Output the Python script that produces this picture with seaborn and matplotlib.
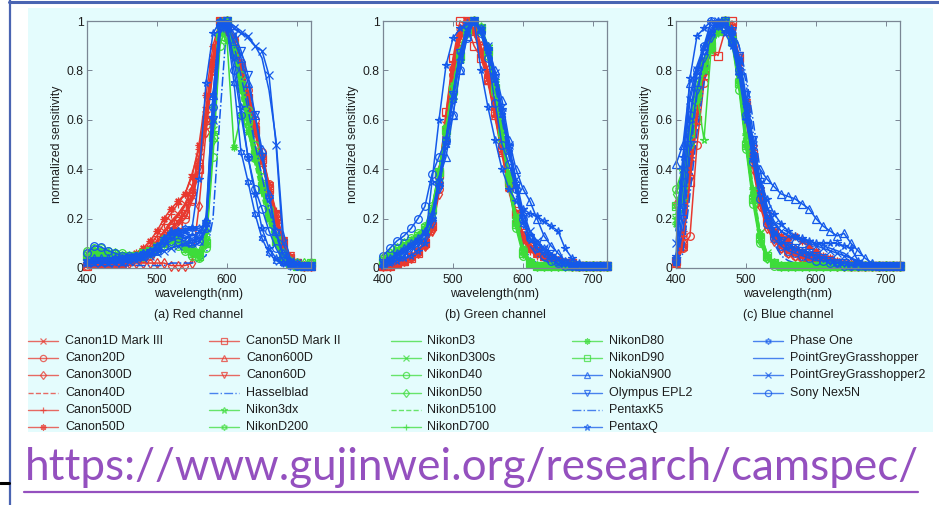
import matplotlib
matplotlib.use("Agg")
import matplotlib.pyplot as plt
import seaborn as sns
import pandas as pd
from matplotlib.lines import Line2D
from matplotlib.patches import Rectangle

# ---------------- data ----------------
wavelengths = [400, 410, 420, 430, 440, 450, 460, 470, 480, 490, 500,
               510, 520, 530, 540, 550, 560, 570, 580, 590, 600, 610,
               620, 630, 640, 650, 660, 670, 680, 690, 700, 710, 720]

camera_names = ["Canon1D Mark III", "Canon20D", "Canon300D", "Canon40D", "Canon500D", "Canon50D",
                "Canon5D Mark II", "Canon600D", "Canon60D", "Hasselblad", "Nikon3dx", "NikonD200",
                "NikonD3", "NikonD300s", "NikonD40", "NikonD50", "NikonD5100", "NikonD700",
                "NikonD80", "NikonD90", "NokiaN900", "Olympus EPL2", "PentaxK5", "PentaxQ",
                "Phase One", "PointGreyGrasshopper", "PointGreyGrasshopper2", "Sony Nex5N"]

panel_titles = ["(a) Red channel", "(b) Green channel", "(c) Blue channel"]
x_ticks = [400, 500, 600, 700]
y_ticks = [0, 0.2, 0.4, 0.6, 0.8, 1]
y_tick_labels = ["0", "0.2", "0.4", "0.6", "0.8", "1"]
url_text = "https://www.gujinwei.org/research/camspec/"

# ---- red channel ----
r_canon1d = [.02,.03,.03,.03,.03,.03,.04,.05,.06,.08,.11, .15,.19,.22,.26,.33,.45,.62,.85,1.0,.97,.90, .80,.68,.55,.43,.30,.18,.08,.03,.01,.01,.01]
r_canon20d = [.01,.02,.02,.02,.02,.02,.03,.03,.04,.05,.07, .10,.14,.17,.20,.27,.40,.58,.82,1.0,.98,.92, .83,.72,.60,.47,.34,.22,.10,.04,.02,.01,.01]
r_canon300d = [.03,.03,.02,.02,.02,.02,.02,.02,.02,.02,.02, .02,.01,.01,.01,.02,.25,.55,.80,.97,1.0,.93, .82,.70,.57,.45,.33,.21,.10,.04,.02,.01,.01]
r_canon40d = [.02,.02,.02,.02,.03,.03,.03,.04,.05,.07,.10, .13,.16,.19,.23,.30,.43,.60,.84,1.0,.96,.88, .78,.66,.54,.42,.30,.19,.09,.04,.02,.01,.01]
r_canon500d = [.02,.02,.02,.03,.03,.03,.04,.05,.07,.09,.13, .18,.22,.26,.30,.38,.48,.65,.86,1.0,.97,.90, .80,.69,.58,.46,.34,.23,.12,.05,.02,.01,.01]
r_canon50d = [.02,.02,.03,.03,.03,.04,.05,.06,.08,.11,.15, .20,.24,.27,.30,.37,.50,.70,.90,1.0,.95,.88, .78,.66,.55,.44,.32,.20,.09,.04,.02,.01,.01]
r_canon5d = [.01,.02,.02,.02,.02,.02,.03,.04,.05,.06,.09, .12,.15,.18,.22,.28,.40,.60,.83,1.0,.98,.91, .81,.69,.56,.44,.32,.21,.10,.04,.02,.01,.01]
r_canon600d = [.02,.02,.02,.02,.02,.03,.03,.04,.05,.07,.10, .14,.18,.21,.25,.32,.44,.61,.84,1.0,.97,.90, .79,.67,.55,.43,.31,.20,.09,.04,.02,.01,.01]
r_canon60d = [.02,.02,.02,.02,.02,.02,.03,.04,.05,.06,.09, .12,.16,.19,.22,.29,.41,.59,.81,.98,1.0,.92, .81,.69,.57,.45,.33,.22,.11,.05,.02,.01,.01]
r_hasselblad = [.01,.01,.01,.01,.01,.01,.01,.01,.01,.01,.01, .01,.02,.02,.02,.02,.03,.05,.20,.62,1.0,.98, .85,.68,.50,.33,.20,.10,.04,.02,.01,.01,.01]
r_nikon3dx = [.05,.06,.06,.05,.05,.05,.05,.05,.06,.07,.08, .10,.12,.11,.08,.06,.05,.10,.55,.95,1.0,.88, .74,.60,.46,.33,.21,.11,.05,.02,.01,.01,.01]
r_nikond200 = [.04,.05,.05,.05,.05,.05,.05,.05,.06,.07,.09, .11,.13,.12,.09,.07,.06,.12,.60,.97,1.0,.86, .72,.58,.44,.31,.20,.10,.05,.02,.01,.01,.01]
r_nikond3 = [.06,.07,.07,.06,.06,.06,.05,.06,.06,.07,.08, .10,.11,.10,.08,.06,.05,.09,.50,.93,1.0,.90, .76,.62,.48,.35,.23,.12,.05,.02,.01,.01,.01]
r_nikond300s = [.05,.06,.06,.06,.05,.05,.05,.05,.06,.07,.09, .11,.12,.11,.09,.07,.06,.11,.56,.96,1.0,.87, .73,.59,.45,.32,.21,.11,.05,.02,.01,.01,.01]
r_nikond40 = [.07,.08,.08,.07,.06,.06,.05,.05,.06,.06,.07, .09,.10,.09,.07,.05,.04,.08,.45,.90,1.0,.91, .78,.64,.50,.37,.24,.13,.06,.03,.02,.01,.02]
r_nikond50 = [.06,.07,.07,.06,.06,.05,.05,.05,.05,.06,.08, .10,.11,.10,.08,.06,.05,.10,.52,.94,1.0,.89, .75,.61,.47,.34,.22,.12,.06,.03,.02,.02,.02]
r_nikond5100 = [.04,.04,.04,.04,.04,.04,.04,.05,.06,.07,.09, .12,.14,.13,.10,.08,.07,.14,.62,.98,1.0,.85, .70,.56,.42,.29,.18,.09,.04,.02,.01,.01,.01]
r_nikond700 = [.05,.06,.06,.06,.06,.05,.05,.05,.06,.07,.09, .11,.13,.12,.09,.07,.05,.10,.54,.95,1.0,.88, .75,.61,.47,.34,.22,.12,.05,.02,.01,.01,.01]
r_nikond80 = [.04,.05,.05,.05,.05,.05,.05,.05,.06,.07,.09, .12,.14,.13,.10,.08,.07,.15,.65,1.0,.92,.49, .62,.55,.44,.32,.20,.10,.04,.02,.01,.01,.01]
r_nikond90 = [.05,.06,.06,.05,.05,.05,.05,.05,.06,.07,.08, .10,.12,.11,.08,.06,.05,.10,.53,.94,1.0,.88, .74,.60,.46,.33,.21,.11,.05,.02,.01,.01,.02]
r_nokian900 = [.03,.04,.04,.04,.04,.04,.04,.05,.06,.07,.09, .12,.15,.15,.14,.13,.14,.20,.70,1.0,.98,.92, .85,.75,.62,.48,.30,.15,.06,.03,.02,.01,.01]
r_olympus = [.02,.03,.03,.03,.03,.03,.04,.04,.05,.06,.08, .10,.13,.14,.13,.12,.13,.18,.60,.97,1.0,.95, .88,.78,.62,.45,.28,.14,.05,.02,.01,.01,.01]
r_pentaxk5 = [.03,.03,.03,.03,.03,.03,.04,.04,.05,.06,.08, .10,.12,.13,.12,.11,.12,.16,.55,.95,1.0,.90, .78,.64,.50,.37,.24,.13,.06,.03,.02,.01,.01]
r_pentaxq = [.02,.02,.02,.02,.03,.03,.03,.04,.05,.07,.09, .12,.14,.15,.15,.16,.36,.75,.95,1.0,.97,.85, .65,.45,.30,.16,.08,.04,.02,.01,.01,.01,.01]
r_phaseone = [.03,.03,.03,.03,.04,.04,.04,.05,.06,.07,.09, .11,.13,.15,.16,.16,.16,.18,.70,1.0,.97,.75, .47,.35,.22,.12,.06,.03,.02,.01,.01,.01,.01]
r_pointgrey = [.02,.02,.02,.02,.02,.03,.03,.03,.04,.05,.06, .07,.08,.09,.09,.09,.10,.15,.55,.95,1.0,.98, .96,.93,.90,.85,.72,.52,.15,.04,.02,.01,.01]
r_pointgrey2 = [.02,.02,.02,.02,.02,.02,.03,.03,.04,.05,.06, .07,.08,.09,.10,.10,.11,.16,.60,.97,1.0,.97, .95,.94,.90,.88,.78,.50,.10,.03,.02,.01,.01]
r_sony = [.06,.09,.085,.07,.06,.05,.05,.05,.05,.06,.07, .09,.11,.12,.11,.10,.11,.16,.65,.98,1.0,.80, .62,.45,.32,.24,.15,.08,.03,.02,.01,.01,.01]

# ---- green channel ----
g_canon1d = [.01,.01,.02,.03,.05,.07,.10,.17,.35,.58,.80, .95,1.0,.96,.88,.77,.63,.48,.33,.20,.12,.08, .06,.05,.04,.03,.02,.02,.01,.01,.01,.01,.01]
g_canon20d = [.01,.02,.02,.03,.05,.07,.10,.16,.32,.55,.78, .93,1.0,.97,.89,.78,.65,.50,.35,.22,.13,.09, .07,.05,.04,.03,.02,.02,.01,.01,.01,.01,.01]
g_canon300d = [.01,.01,.02,.03,.04,.06,.09,.15,.30,.52,.75, .92,.99,1.0,.90,.80,.66,.51,.36,.22,.13,.08, .06,.05,.04,.03,.02,.01,.01,.01,.01,.01,.01]
g_canon40d = [.01,.01,.02,.03,.05,.07,.10,.17,.36,.60,.82, .96,1.0,.95,.87,.76,.62,.47,.32,.19,.11,.07, .05,.04,.03,.02,.02,.01,.01,.01,.01,.01,.01]
g_canon500d = [.01,.02,.02,.03,.05,.07,.11,.18,.38,.62,.84, .97,1.0,.95,.86,.75,.61,.46,.31,.19,.11,.07, .05,.04,.03,.03,.02,.01,.01,.01,.01,.01,.01]
g_canon50d = [.01,.01,.02,.03,.04,.06,.09,.16,.34,.57,.80, .95,1.0,.96,.88,.77,.64,.49,.34,.21,.12,.08, .06,.05,.04,.03,.02,.02,.01,.01,.01,.01,.01]
g_canon5d = [.01,.01,.02,.03,.04,.06,.10,.17,.38,.63,.85, 1.0,.98,.90,.85,.76,.63,.49,.35,.22,.13,.09, .07,.05,.04,.03,.02,.02,.01,.01,.01,.01,.01]
g_canon600d = [.01,.02,.02,.03,.05,.07,.10,.17,.40,.58,.82, .96,1.0,.96,.87,.76,.62,.47,.33,.20,.12,.08, .06,.05,.04,.03,.02,.01,.01,.01,.01,.01,.01]
g_canon60d = [.01,.01,.02,.03,.04,.06,.09,.15,.33,.56,.79, .94,1.0,.96,.89,.79,.66,.51,.36,.23,.14,.09, .07,.05,.04,.03,.02,.02,.01,.01,.01,.01,.01]
g_hasselblad = [.02,.03,.04,.05,.07,.09,.12,.19,.33,.50,.68, .85,.96,1.0,.95,.85,.70,.53,.36,.20,.09,.04, .02,.01,.01,.01,.01,.01,.01,.01,.01,.01,.01]
g_nikon3dx = [.02,.04,.06,.08,.10,.12,.15,.22,.38,.55,.70, .85,.95,1.0,.98,.90,.76,.58,.38,.20,.07,.02, .01,.01,.01,.01,.01,.01,.01,.01,.01,.01,.01]
g_nikond200 = [.03,.05,.07,.09,.11,.13,.16,.23,.37,.53,.69, .84,.95,1.0,.97,.88,.73,.55,.36,.19,.07,.02, .01,.01,.01,.01,.01,.01,.01,.01,.01,.01,.01]
g_nikond3 = [.03,.05,.07,.09,.11,.13,.16,.24,.40,.57,.73, .87,.96,1.0,.96,.87,.72,.54,.35,.18,.06,.02, .01,.01,.01,.01,.01,.01,.01,.01,.01,.01,.01]
g_nikond300s = [.03,.05,.07,.09,.10,.12,.15,.22,.37,.54,.70, .85,.95,1.0,.97,.89,.74,.56,.37,.19,.07,.02, .01,.01,.01,.01,.01,.01,.01,.01,.01,.01,.01]
g_nikond40 = [.04,.06,.08,.10,.12,.14,.17,.25,.39,.55,.71, .86,.96,1.0,.96,.86,.71,.52,.33,.16,.05,.02, .01,.01,.01,.01,.01,.01,.01,.01,.01,.01,.01]
g_nikond50 = [.04,.06,.08,.10,.11,.13,.16,.24,.38,.54,.70, .85,.95,1.0,.97,.88,.73,.55,.36,.18,.06,.02, .01,.01,.01,.01,.01,.01,.01,.01,.01,.01,.01]
g_nikond5100 = [.02,.04,.06,.08,.10,.12,.15,.23,.40,.58,.75, .89,.97,1.0,.95,.86,.72,.55,.37,.20,.08,.03, .01,.01,.01,.01,.01,.01,.01,.01,.01,.01,.01]
g_nikond700 = [.03,.05,.07,.09,.11,.13,.16,.23,.38,.55,.71, .86,.96,1.0,.97,.88,.73,.55,.36,.18,.06,.02, .01,.01,.01,.01,.01,.01,.01,.01,.01,.01,.01]
g_nikond80 = [.02,.04,.06,.08,.10,.12,.15,.22,.39,.57,.74, .88,.97,1.0,.96,.87,.73,.56,.38,.21,.08,.03, .01,.01,.01,.01,.01,.01,.01,.01,.01,.01,.01]
g_nikond90 = [.03,.05,.07,.09,.11,.13,.16,.24,.39,.56,.72, .86,.96,1.0,.97,.88,.73,.55,.36,.18,.06,.02, .01,.01,.01,.01,.01,.01,.01,.01,.01,.01,.01]
g_nokian900 = [.02,.04,.06,.08,.10,.12,.15,.22,.36,.45,.62, .80,.94,1.0,.97,.90,.80,.68,.52,.40,.32,.27, .20,.13,.09,.06,.03,.02,.01,.01,.01,.01,.01]
g_olympus = [.02,.03,.05,.06,.08,.10,.12,.18,.32,.50,.70, .87,.97,1.0,.96,.88,.77,.63,.48,.33,.20,.12, .08,.06,.04,.03,.02,.01,.01,.01,.01,.01,.01]
g_pentaxk5 = [.03,.04,.06,.08,.10,.12,.15,.21,.35,.52,.70, .86,.96,1.0,.95,.86,.74,.60,.45,.30,.17,.09, .05,.03,.02,.01,.01,.01,.01,.01,.01,.01,.01]
g_pentaxq = [.01,.02,.03,.04,.05,.07,.10,.35,.60,.82,.93, .97,.99,1.0,.80,.65,.52,.40,.32,.27,.24,.22, .21,.19,.17,.15,.08,.04,.02,.01,.01,.01,.01]
g_phaseone = [.02,.03,.05,.07,.09,.11,.14,.20,.33,.50,.68, .84,.95,1.0,.96,.88,.76,.62,.47,.33,.18,.12, .10,.08,.05,.03,.02,.01,.01,.01,.01,.01,.01]
g_pointgrey = [.02,.03,.05,.07,.09,.11,.14,.21,.36,.53,.71, .87,.97,1.0,.96,.88,.77,.63,.48,.34,.22,.14, .10,.07,.05,.03,.02,.01,.01,.01,.01,.01,.01]
g_pointgrey2 = [.02,.03,.05,.07,.09,.11,.14,.21,.35,.52,.70, .86,.96,1.0,.97,.90,.79,.65,.50,.36,.23,.15, .11,.08,.06,.04,.02,.01,.01,.01,.01,.01,.01]
g_sony = [.05,.08,.11,.13,.16,.20,.25,.38,.45,.52,.62, .80,.93,1.0,.95,.85,.67,.50,.42,.32,.20,.12, .08,.05,.03,.02,.01,.01,.01,.01,.01,.01,.01]

# ---- blue channel ----
b_canon1d = [.03,.12,.45,.68,.83,.93,.98,1.0,.95,.82,.62, .42,.26,.17,.12,.09,.07,.06,.05,.04,.03,.03, .02,.02,.01,.01,.01,.01,.01,.01,.01,.01,.01]
b_canon20d = [.02,.08,.13,.50,.75,.90,.97,1.0,.98,.85,.65, .45,.28,.18,.12,.08,.06,.05,.04,.03,.03,.02, .02,.01,.01,.01,.01,.01,.01,.01,.01,.01,.01]
b_canon300d = [.26,.30,.50,.68,.82,.92,.97,1.0,.94,.80,.60, .40,.25,.16,.11,.08,.06,.05,.04,.03,.03,.02, .02,.01,.01,.01,.01,.01,.01,.01,.01,.01,.01]
b_canon40d = [.02,.10,.40,.64,.80,.91,.98,1.0,.96,.84,.66, .47,.30,.20,.14,.11,.09,.07,.06,.05,.04,.03, .02,.02,.01,.01,.01,.01,.01,.01,.01,.01,.01]
b_canon500d = [.03,.13,.45,.67,.82,.92,.98,1.0,.95,.83,.64, .45,.28,.18,.13,.10,.08,.06,.05,.04,.03,.03, .02,.02,.01,.01,.01,.01,.01,.01,.01,.01,.01]
b_canon50d = [.04,.15,.47,.70,.84,.93,.98,1.0,.94,.82,.63, .44,.29,.20,.15,.13,.12,.13,.11,.09,.07,.05, .04,.03,.02,.02,.01,.01,.01,.01,.01,.01,.01]
b_canon5d = [.03,.10,.35,.60,.78,.88,.86,.96,1.0,.85,.66, .46,.30,.20,.14,.11,.09,.07,.06,.05,.04,.03, .03,.02,.02,.01,.01,.01,.01,.01,.01,.01,.01]
b_canon600d = [.02,.09,.38,.62,.80,.90,.97,1.0,.96,.84,.65, .46,.30,.20,.15,.12,.10,.08,.06,.05,.04,.03, .03,.02,.02,.01,.01,.01,.01,.01,.01,.01,.01]
b_canon60d = [.02,.08,.36,.60,.78,.89,.96,1.0,.97,.86,.67, .48,.31,.21,.15,.11,.09,.07,.06,.05,.04,.03, .02,.02,.01,.01,.01,.01,.01,.01,.01,.01,.01]
b_hasselblad = [.01,.06,.30,.55,.75,.88,.96,1.0,.98,.90,.75, .55,.35,.20,.10,.05,.03,.02,.01,.01,.01,.01, .01,.01,.01,.01,.01,.01,.01,.01,.01,.01,.01]
b_nikon3dx = [.20,.30,.50,.70,.52,.88,.96,1.0,.92,.75,.50, .28,.12,.05,.02,.01,.01,.01,.01,.01,.01,.01, .01,.01,.01,.01,.01,.01,.01,.01,.01,.01,.01]
b_nikond200 = [.25,.35,.55,.70,.80,.89,.95,1.0,.93,.76,.52, .30,.13,.05,.02,.01,.01,.01,.01,.01,.01,.01, .01,.01,.01,.01,.01,.01,.01,.01,.01,.01,.01]
b_nikond3 = [.30,.38,.56,.72,.82,.90,.96,1.0,.92,.74,.50, .28,.11,.04,.02,.01,.01,.01,.01,.01,.01,.01, .01,.01,.01,.01,.01,.01,.01,.01,.01,.01,.01]
b_nikond300s = [.20,.30,.52,.70,.80,.89,.96,1.0,.93,.77,.53, .31,.14,.06,.02,.01,.01,.01,.01,.01,.01,.01, .01,.01,.01,.01,.01,.01,.01,.01,.01,.01,.01]
b_nikond40 = [.32,.40,.58,.74,.84,.92,.97,1.0,.91,.72,.48, .26,.10,.04,.01,.01,.01,.01,.01,.01,.01,.01, .01,.01,.01,.01,.01,.01,.01,.01,.01,.01,.01]
b_nikond50 = [.30,.38,.56,.72,.83,.91,.97,1.0,.92,.74,.50, .28,.11,.04,.02,.01,.01,.01,.01,.01,.01,.01, .01,.01,.01,.01,.01,.01,.01,.01,.01,.01,.01]
b_nikond5100 = [.15,.25,.50,.68,.80,.89,.95,1.0,.93,.78,.55, .33,.15,.06,.02,.01,.01,.01,.01,.01,.01,.01, .01,.01,.01,.01,.01,.01,.01,.01,.01,.01,.01]
b_nikond700 = [.22,.32,.53,.71,.81,.90,.96,1.0,.92,.75,.51, .29,.12,.05,.02,.01,.01,.01,.01,.01,.01,.01, .01,.01,.01,.01,.01,.01,.01,.01,.01,.01,.01]
b_nikond80 = [.18,.28,.50,.68,.80,.89,.96,1.0,.93,.77,.54, .32,.14,.05,.02,.01,.01,.01,.01,.01,.01,.01, .01,.01,.01,.01,.01,.01,.01,.01,.01,.01,.01]
b_nikond90 = [.25,.34,.55,.71,.82,.90,.96,1.0,.92,.75,.50, .28,.12,.05,.02,.01,.01,.01,.01,.01,.01,.01, .01,.01,.01,.01,.01,.01,.01,.01,.01,.01,.01]
b_nokian900 = [.42,.50,.75,.80,.90,.97,1.0,.98,.92,.80,.62, .45,.40,.36,.33,.30,.29,.28,.26,.24,.20,.17, .15,.13,.14,.10,.07,.04,.02,.01,.01,.01,.01]
b_olympus = [.03,.20,.50,.72,.85,.93,.98,1.0,.96,.86,.70, .52,.35,.22,.15,.11,.09,.08,.07,.06,.05,.04, .03,.02,.02,.01,.01,.01,.01,.01,.01,.01,.01]
b_pentaxk5 = [.02,.15,.45,.70,.84,.93,.98,1.0,.97,.90,.78, .60,.40,.25,.16,.12,.10,.08,.07,.06,.05,.04, .03,.02,.02,.01,.01,.01,.01,.01,.01,.01,.01]
b_pentaxq = [.05,.45,.77,.94,.97,1.0,.98,.95,.90,.78,.60, .44,.35,.28,.22,.18,.15,.13,.12,.11,.10,.10, .10,.10,.09,.08,.03,.01,.01,.01,.01,.01,.01]
b_phaseone = [.02,.25,.60,.78,.88,.95,.99,1.0,.95,.84,.66, .46,.30,.20,.14,.11,.09,.08,.07,.06,.05,.04, .03,.02,.02,.01,.01,.01,.01,.01,.01,.01,.01]
b_pointgrey = [.15,.45,.70,.82,.90,.96,1.0,.98,.93,.83,.67, .50,.35,.25,.19,.15,.13,.12,.12,.11,.10,.09, .08,.07,.06,.04,.03,.02,.01,.01,.01,.01,.01]
b_pointgrey2 = [.10,.40,.68,.80,.89,.95,1.0,.99,.94,.84,.68, .50,.34,.24,.18,.15,.13,.12,.11,.10,.09,.08, .07,.06,.05,.04,.02,.01,.01,.01,.01,.01,.01]
b_sony = [.03,.35,.62,.80,.90,1.0,.99,.97,.92,.80,.62, .43,.28,.18,.12,.09,.07,.06,.05,.04,.03,.03, .02,.02,.01,.01,.01,.01,.01,.01,.01,.01,.01]

red_series = [r_canon1d, r_canon20d, r_canon300d, r_canon40d, r_canon500d, r_canon50d, r_canon5d,
              r_canon600d, r_canon60d, r_hasselblad, r_nikon3dx, r_nikond200, r_nikond3, r_nikond300s,
              r_nikond40, r_nikond50, r_nikond5100, r_nikond700, r_nikond80, r_nikond90, r_nokian900,
              r_olympus, r_pentaxk5, r_pentaxq, r_phaseone, r_pointgrey, r_pointgrey2, r_sony]
green_series = [g_canon1d, g_canon20d, g_canon300d, g_canon40d, g_canon500d, g_canon50d, g_canon5d,
                g_canon600d, g_canon60d, g_hasselblad, g_nikon3dx, g_nikond200, g_nikond3, g_nikond300s,
                g_nikond40, g_nikond50, g_nikond5100, g_nikond700, g_nikond80, g_nikond90, g_nokian900,
                g_olympus, g_pentaxk5, g_pentaxq, g_phaseone, g_pointgrey, g_pointgrey2, g_sony]
blue_series = [b_canon1d, b_canon20d, b_canon300d, b_canon40d, b_canon500d, b_canon50d, b_canon5d,
               b_canon600d, b_canon60d, b_hasselblad, b_nikon3dx, b_nikond200, b_nikond3, b_nikond300s,
               b_nikond40, b_nikond50, b_nikond5100, b_nikond700, b_nikond80, b_nikond90, b_nokian900,
               b_olympus, b_pentaxk5, b_pentaxq, b_phaseone, b_pointgrey, b_pointgrey2, b_sony]

# ---------------- styles ----------------
RED, GREEN, BLUE = "#e8392f", "#3ddc3a", "#1459ea"
brand_colors = [RED] * 9 + [BLUE] + [GREEN] * 10 + [BLUE] * 8
marker_cycle = ["x", "o", "d", None, "+", (8, 2, 0), "s", "^", "v", None, "*", (6, 1, 0), None]
style_cycle = ["-", "-", "-", "--", "-", "-", "-", "-", "-", "-.", "-", "-", "-"]
CYAN = "#e4fcfd"
FRAME = "#4a64b2"
PURPLE = "#9450bf"

sns.set_theme(style="white")
plt.rcParams["font.family"] = ["Liberation Sans", "DejaVu Sans"]

W, H = 939, 505
fig = plt.figure(figsize=(W / 100, H / 100), dpi=100, facecolor="white")


def fx(px):
    return px / W


def fy(py):
    return 1 - py / H


fig.add_artist(Rectangle((fx(28), fy(432)), fx(933) - fx(28), fy(8) - fy(432),
                         transform=fig.transFigure, facecolor=CYAN, edgecolor="none", zorder=-5))
fig.add_artist(Line2D([fx(9.5), fx(9.5)], [0, 1], transform=fig.transFigure, color=FRAME, lw=1.6))
fig.add_artist(Line2D([fx(9), 1], [fy(1.5), fy(1.5)], transform=fig.transFigure, color=FRAME, lw=2.2))
fig.add_artist(Line2D([0, fx(9)], [fy(483), fy(483)], transform=fig.transFigure, color="black", lw=2.2))

channels = [red_series, green_series, blue_series]
axes_left = [87, 383, 676]
AX_W, AX_TOP, AX_BOT = 224, 21, 268

for ci, series in enumerate(channels):
    left = axes_left[ci]
    ax = fig.add_axes([fx(left), fy(AX_BOT), AX_W / W, (AX_BOT - AX_TOP) / H])
    ax.set_facecolor("none")
    for i, vals in enumerate(series):
        if len(vals) != len(wavelengths):
            raise ValueError(f"{camera_names[i]} channel {ci}: {len(vals)} values")
        df = pd.DataFrame({"wavelength": wavelengths, "sensitivity": vals})
        col = brand_colors[i]
        mk = marker_cycle[i % 13]
        sns.lineplot(data=df, x="wavelength", y="sensitivity", ax=ax, color=col,
                     linestyle=style_cycle[i % 13], marker=mk, markersize=5.5,
                     markerfacecolor="none", markeredgecolor=col, markeredgewidth=0.9,
                     linewidth=1.1, legend=False, sort=False, estimator=None, clip_on=False)
    ax.set_xlim(400, 720)
    ax.set_ylim(0, 1)
    ax.set_xticks(x_ticks)
    ax.set_yticks(y_ticks)
    ax.set_yticklabels(y_tick_labels)
    ax.set_xlabel("")
    ax.set_ylabel("")
    ax.tick_params(direction="in", length=3.5, width=0.7, color="#7a8694", bottom=True, left=True,
                   top=True, right=True, labelsize=8.8, labelcolor="#1e1e1e")
    ax.tick_params(axis="x", pad=4.2)
    ax.tick_params(axis="y", pad=2.5)
    for s in ax.spines.values():
        s.set_visible(True)
        s.set_color("#7a8694")
        s.set_linewidth(0.9)
    cx = left + AX_W / 2
    fig.text(fx(left - 30), fy((AX_TOP + AX_BOT) / 2), "normalized sensitivity", rotation=90,
             ha="center", va="center", fontsize=8.8, color="#1e1e1e")
    fig.text(fx(cx), fy(294), "wavelength(nm)", ha="center", va="center", fontsize=9, color="#1e1e1e")
    fig.text(fx(cx), fy(315), panel_titles[ci], ha="center", va="center", fontsize=9, color="#1e1e1e")

# ---------------- legend (5 columns x 6 rows, column-major) ----------------
col_x = [28, 209, 390.5, 572, 753]
row_y0, row_dy = 341, 17.2
for i, name in enumerate(camera_names):
    c, r = divmod(i, 6)
    x0 = col_x[c]
    y = row_y0 + r * row_dy
    col = brand_colors[i]
    mk = marker_cycle[i % 13]
    fig.add_artist(Line2D([fx(x0), fx(x0 + 30)], [fy(y), fy(y)], transform=fig.transFigure,
                          color=col, lw=1.0, linestyle=style_cycle[i % 13], alpha=0.75))
    if mk is not None:
        fig.add_artist(Line2D([fx(x0 + 15)], [fy(y)], transform=fig.transFigure, color=col,
                              marker=mk, markersize=4.5, markerfacecolor="none",
                              markeredgecolor=col, markeredgewidth=0.9, linestyle="none", alpha=0.75))
    fig.text(fx(x0 + 37), fy(y), name, ha="left", va="center", fontsize=9, color="#1e1e1e")

# ---------------- URL ----------------
url = fig.text(fx(25), fy(480), url_text, ha="left", va="baseline", fontsize=28,
               family=["Lato", "DejaVu Sans"], color=PURPLE)
fig.canvas.draw()
bb = url.get_window_extent()
url.set_fontsize(28 * 892 / bb.width)
fig.add_artist(Line2D([fx(24), fx(918)], [fy(492), fy(492)], transform=fig.transFigure,
                      color=PURPLE, lw=1.6))

fig.savefig("out.png", dpi=100, facecolor="white")
